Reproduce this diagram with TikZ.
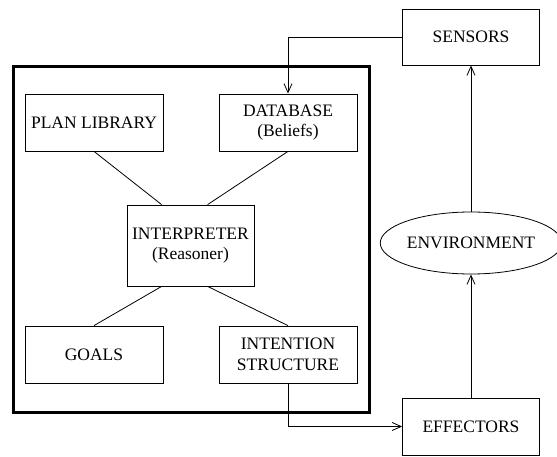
\documentclass[tikz,border=0pt]{standalone}
\usepackage{fontspec}
\setmainfont{Liberation Serif}
\usepackage{tikz}
\usetikzlibrary{positioning,arrows.meta,calc,shapes.geometric}

\begin{document}
\begin{tikzpicture}[x=1pt,y=-1pt,font=\fontsize{17.5}{20.5}\selectfont,line width=0.8pt,
 >={Straight Barb[length=9pt,width=8pt]},
 b/.style={draw,rectangle,align=center,minimum width=138pt,minimum height=57pt,inner sep=0pt},
 env/.style={draw,ellipse,minimum width=178pt,minimum height=62pt,inner sep=0pt}]
\useasboundingbox (0,0) rectangle (557,457);
% agent frame
\draw[line width=3pt] (13,67) rectangle (369,412);
\node[b] (plan) at (94,122.5) {PLAN LIBRARY};
\node[b] (db) at (288,122.5) {DATABASE\\(Beliefs)};
\node[b,minimum width=127pt,minimum height=81pt] (interp) at (190.5,245.5) {INTERPRETER\\(Reasoner)};
\node[b] (goals) at (94,354.5) {GOALS};
\node[b] (intent) at (288,354.5) {INTENTION\\STRUCTURE};
\node[b,minimum width=137pt,minimum height=56pt] (sensors) at (471,37) {SENSORS};
\node[env] (environ) at (471,243) {ENVIRONMENT};
\node[b,minimum width=137pt] (effectors) at (471,426.5) {EFFECTORS};
\draw (plan.south) -- ($(interp.north west)+(35,0)$);
\draw (db.south) -- ($(interp.north west)+(81,0)$);
\draw (goals.north) -- ($(interp.south west)+(35,0)$);
\draw (intent.north) -- ($(interp.south west)+(81,0)$);
\draw[->] (sensors.west) -| (db.north);
\draw[->] (environ.north) -- (sensors.south);
\draw[->] (effectors.north) -- (environ.south);
\draw[->] (intent.south) |- (effectors.west);
\end{tikzpicture}
\end{document}
